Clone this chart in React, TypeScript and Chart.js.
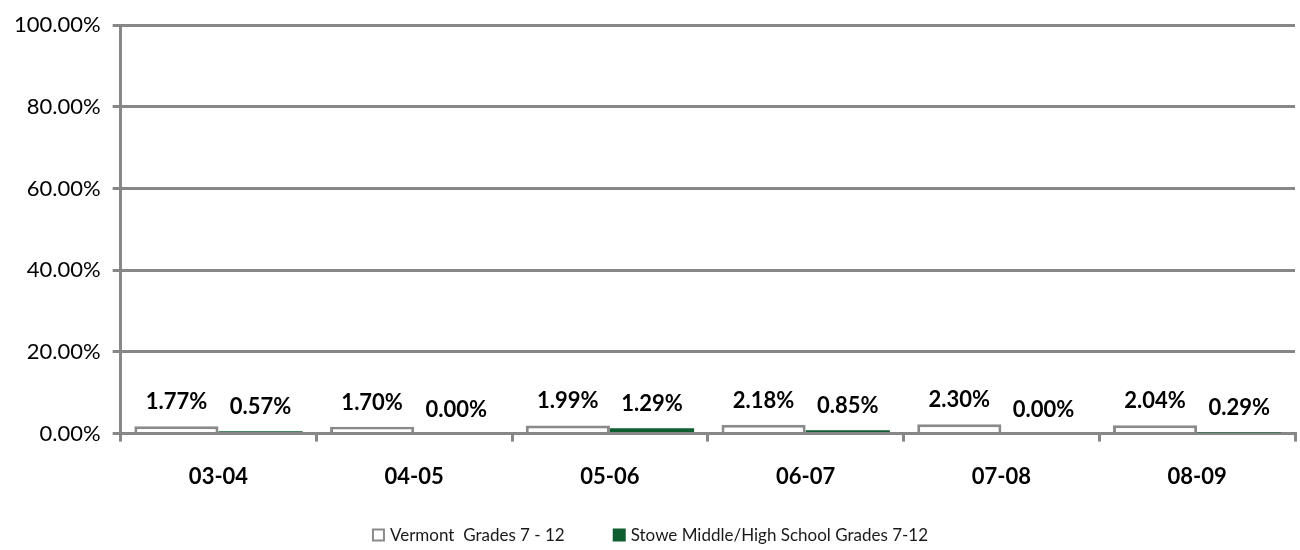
import React, { useEffect, useRef } from "react";
import { Chart, registerables } from "chart.js";

Chart.register(...registerables);

const categories = ["03-04", "04-05", "05-06", "06-07", "07-08", "08-09"];
const vermontValues = [1.77, 1.7, 1.99, 2.18, 2.3, 2.04];
const stoweValues = [0.57, 0.0, 1.29, 0.85, 0.0, 0.29];
const seriesNames = ["Vermont  Grades 7 - 12", "Stowe Middle/High School Grades 7-12"];
const yTicks = [0, 20, 40, 60, 80, 100];

const FONT = "Lato, 'Open Sans', sans-serif";
const GRID = "#878787";

const dataLabelPlugin = {
  id: "dataLabels",
  afterDatasetsDraw(chart: any) {
    const ctx = chart.ctx;
    ctx.save();
    ctx.font = `bold 22px ${FONT}`;
    ctx.fillStyle = "#000";
    ctx.textAlign = "center";
    ctx.textBaseline = "alphabetic";
    chart.data.datasets.forEach((ds: any, i: number) => {
      const meta = chart.getDatasetMeta(i);
      meta.data.forEach((bar: any, j: number) => {
        const v = ds.data[j];
        ctx.fillText(v.toFixed(2) + "%", bar.x, bar.y - 17);
      });
    });
    ctx.restore();
  },
};

const legendPlugin = {
  id: "customLegend",
  afterDraw(chart: any) {
    const ctx = chart.ctx;
    ctx.save();
    ctx.font = `17px ${FONT}`;
    const box = 13;
    const gapText = 5;
    const gapItem = 48;
    const ds = chart.data.datasets;
    const widths = ds.map((d: any) => ctx.measureText(d.label).width);
    const total = widths.reduce((a: number, w: number) => a + box + gapText + w, 0) + gapItem * (ds.length - 1);
    let x = chart.width / 2 - total / 2;
    const cy = 535;
    ds.forEach((d: any, i: number) => {
      ctx.fillStyle = d.backgroundColor;
      ctx.fillRect(x, cy - box / 2, box, box);
      if (d.borderWidth) {
        ctx.strokeStyle = d.borderColor;
        ctx.lineWidth = 2;
        ctx.strokeRect(x + 1, cy - box / 2 + 1, box - 2, box - 2);
      }
      ctx.fillStyle = "#1a1a1a";
      ctx.textBaseline = "middle";
      ctx.textAlign = "left";
      ctx.fillText(d.label, x + box + gapText, cy + 1);
      x += box + gapText + widths[i] + gapItem;
    });
    ctx.restore();
  },
};

export default function App() {
  const ref = useRef<HTMLCanvasElement>(null);
  useEffect(() => {
    document.body.style.margin = "0";
    const chart = new Chart(ref.current!, {
      type: "bar",
      data: {
        labels: categories,
        datasets: [
          {
            label: seriesNames[0],
            data: vermontValues,
            backgroundColor: "#ffffff",
            borderColor: "#8a8a8a",
            borderWidth: 3,
            borderSkipped: "bottom",
          },
          {
            label: seriesNames[1],
            data: stoweValues,
            backgroundColor: "#0e5e31",
            borderColor: "#0e5e31",
            borderWidth: 0,
          },
        ],
      },
      options: {
        animation: false,
        responsive: false,
        maintainAspectRatio: false,
        layout: { padding: { top: 6, right: 5, left: 2, bottom: 38 } },
        datasets: { bar: { categoryPercentage: 0.86, barPercentage: 1.0 } },
        scales: {
          x: {
            offset: true,
            grid: {
              offset: true,
              drawOnChartArea: false,
              drawTicks: true,
              tickLength: 8,
              color: GRID,
              lineWidth: 3,
            },
            border: { display: true, color: GRID, width: 3 },
            ticks: {
              color: "#000",
              font: { family: FONT, size: 22, weight: "bold" },
              padding: 22,
            },
          },
          y: {
            min: 0,
            max: 100,
            afterBuildTicks: (axis: any) => {
              axis.ticks = yTicks.map((v) => ({ value: v }));
            },
            grid: {
              color: GRID,
              lineWidth: 3,
              tickLength: 8,
              drawTicks: true,
            },
            border: { display: true, color: GRID, width: 3 },
            ticks: {
              color: "#000",
              font: { family: FONT, size: 22 },
              padding: 12,
              callback: (v: any) => Number(v).toFixed(2) + "%",
            },
          },
        },
        plugins: {
          legend: { display: false },
          tooltip: { enabled: false },
        },
      },
      plugins: [dataLabelPlugin, legendPlugin],
    });
    return () => chart.destroy();
  }, []);
  return (
    <div style={{ position: "absolute", left: 0, top: 0, width: 1300, height: 550 }}>
      <canvas ref={ref} width={1300} height={550} />
    </div>
  );
}
